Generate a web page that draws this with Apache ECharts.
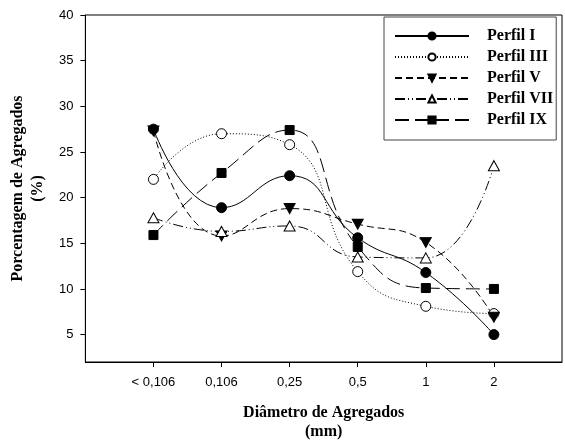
<!DOCTYPE html>
<html>
<head>
<meta charset="utf-8">
<script src="https://cdn.jsdelivr.net/npm/echarts@6/dist/echarts.min.js"></script>
<style>
  html, body { margin: 0; padding: 0; background: #fff; }
  #chart { width: 565px; height: 446px; }
</style>
</head>
<body>
<div id="chart"></div>
<script>
const categories = ['< 0,106', '0,106', '0,25', '0,5', '1', '2'];
const yTicks = [5, 10, 15, 20, 25, 30, 35, 40];

const perfilI = [27.5, 18.9, 22.4, 15.6, 11.8, 5.0];
const perfilIII = [22.0, 27.0, 25.8, 11.9, 8.1, 7.3];
const perfilV = [27.3, 15.8, 18.8, 17.1, 15.1, 6.9];
const perfilVII = [17.8, 16.3, 16.9, 13.5, 13.4, 23.5];
const perfilIX = [15.9, 22.7, 27.4, 14.6, 10.1, 10.0];

const serif = '"Liberation Serif", "Times New Roman", serif';
const sans = '"Liberation Sans", Arial, sans-serif';

// pad the category axis by one empty slot on each side
const axisData = [''].concat(categories, ['']);
const toPoints = vals => vals.map((v, i) => [i + 1, v]);

const downTriangle = 'path://M0,0L10,0L5,9Z';

const makeSeries = (name, vals, symbol, size, fill, dash) => ({
    name: name,
    type: 'line',
    data: toPoints(vals),
    smooth: 0.5,
    symbol: symbol,
    symbolSize: size,
    showSymbol: true,
    itemStyle: { color: fill, borderColor: '#000', borderWidth: 1 },
    lineStyle: { color: '#000', width: 1, type: dash },
    emphasis: { disabled: true },
    z: 2
});

const chart = echarts.init(document.getElementById('chart'));
chart.setOption({
    animation: false,
    backgroundColor: '#fff',
    grid: {
        left: 82, top: 15, right: -2, bottom: 82,
        show: true, borderColor: '#000', borderWidth: 1
    },
    legend: {
        left: 384, top: 17,
        orient: 'vertical',
        padding: [11, 3, 12, 10],
        itemWidth: 74, itemHeight: 9, itemGap: 5,
        borderColor: '#444', borderWidth: 1,
        backgroundColor: '#fff',
        textStyle: { fontFamily: serif, fontWeight: 'bold', fontSize: 16, color: '#000', padding: [0, 0, 0, 13] },
        data: ['Perfil I', 'Perfil III', 'Perfil V', 'Perfil VII', 'Perfil IX']
    },
    xAxis: {
        type: 'category',
        data: axisData,
        boundaryGap: false,
        name: 'Diâmetro de Agregados\n(mm)',
        nameLocation: 'middle',
        nameGap: 41,
        nameTextStyle: { fontFamily: serif, fontWeight: 'bold', fontSize: 16, color: '#000', lineHeight: 19 },
        axisLine: { lineStyle: { color: '#000', width: 1 } },
        axisTick: {
            inside: false, length: 5, lineStyle: { color: '#000' },
            interval: (i) => i > 0 && i < axisData.length - 1
        },
        axisLabel: { margin: 14, fontFamily: sans, fontSize: 13, color: '#000', interval: 0 },
        splitLine: { show: false }
    },
    yAxis: {
        type: 'value',
        min: 2, max: 40,
        name: 'Porcentagem de Agregados\n(%)',
        nameLocation: 'middle',
        nameGap: 35,
        nameTextStyle: { fontFamily: serif, fontWeight: 'bold', fontSize: 16, color: '#000', lineHeight: 20 },
        axisLine: { show: true, lineStyle: { color: '#000', width: 1 } },
        axisTick: { show: true, length: 5, lineStyle: { color: '#000' }, customValues: yTicks },
        axisLabel: { margin: 12, fontFamily: sans, fontSize: 13, color: '#000', customValues: yTicks },
        splitLine: { show: false }
    },
    series: [
        makeSeries('Perfil I', perfilI, 'circle', 10, '#000', 'solid'),
        makeSeries('Perfil III', perfilIII, 'circle', 10, '#fff', [1, 2]),
        makeSeries('Perfil V', perfilV, downTriangle, [11, 10], '#000', [7, 4]),
        makeSeries('Perfil VII', perfilVII, 'triangle', [11, 10], '#fff', [10, 3, 1, 3, 1, 3]),
        makeSeries('Perfil IX', perfilIX, 'rect', 9, '#000', [14, 6])
    ]
});
</script>
</body>
</html>
